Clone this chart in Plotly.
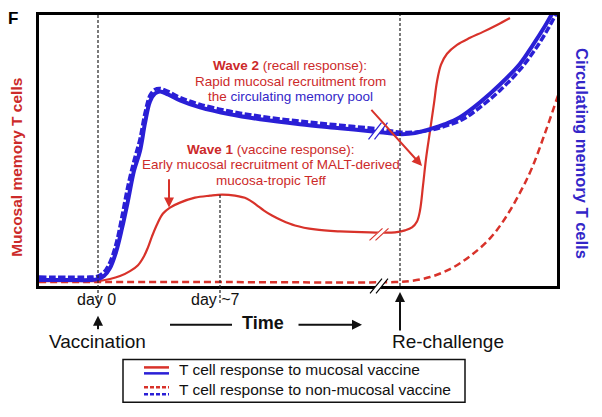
import numpy as np
import plotly.graph_objects as go

# ---------------- data (arbitrary units: time a.u., level a.u.) ----------------
# time: day 0 = 0, day ~7 = 122, re-challenge = 302
DAY0 = 0
DAY7 = 122
RECHALLENGE = 302
BREAK_T = 281

# Circulating memory T cells, mucosal vaccine (blue solid)
t_circ_muc = [-59, -28, -8, 0, 6, 12, 18, 24, 30, 36, 42, 47, 52, 57, 62, 70, 82, 102, 132, 162,
              202, 242, 282, 302, 317, 332, 347, 362, 382, 402, 422, 435, 447, 455, 458]
y_circ_muc = [6, 6, 6, 7, 10, 18, 34, 58, 86, 116, 136, 164, 186, 194, 196, 193, 187, 180, 173, 168,
              163, 159, 155, 153, 154, 158, 163, 170, 185, 203, 224, 243, 262, 276, 282]

# Circulating memory T cells, non-mucosal vaccine (blue dashed)
t_circ_non = [-59, -8, 0, 6, 12, 18, 24, 30, 36, 42, 47, 52, 57, 62, 70, 82, 102, 132, 162,
              202, 242, 282, 302, 317, 332, 347, 365, 382, 402, 422, 437, 450, 458, 461]
y_circ_non = [9, 9, 10, 14, 24, 42, 70, 101, 126, 148, 174, 192, 198, 199, 196, 190, 183, 176, 171,
              166, 162, 158, 155, 155, 157, 161, 168, 180, 197, 218, 238, 259, 274, 280]

# Mucosal memory T cells, mucosal vaccine (red solid)
t_muc_muc = [-59, -18, 0, 12, 22, 32, 40, 46, 50, 54, 59, 65, 72, 82, 97, 112, 124, 137, 149, 158,
             166, 174, 184, 197, 217, 242, 272, 297, 307, 314, 319, 322, 325, 328, 332, 336, 339,
             343, 349, 359, 372, 385, 399, 412]
y_muc_muc = [5, 5, 5, 7, 10, 15, 21, 30, 39, 50, 62, 73, 79, 84, 89, 91, 92, 91, 88, 82,
             76, 71, 66, 61, 57, 55, 54, 54, 56, 59, 65, 76, 101, 128, 156, 184, 206,
             223, 234, 243, 250, 256, 263, 270]

# Mucosal memory T cells, non-mucosal vaccine (red dashed)
t_muc_non = [-59, 102, 297, 312, 332, 352, 372, 392, 407, 422, 434, 447, 459, 462]
y_muc_non = [4, 4, 4, 5, 9, 17, 30, 48, 68, 94, 119, 154, 189, 198]

X_RANGE = [-59, 459]
Y_RANGE = [0, 273]

# ---------------- styling ----------------
W, H = 602, 417
ML, MR, MT, MB = 39, 45, 13, 131
PW, PH = W - ML - MR, H - MT - MB
FONT = "Liberation Sans, Arial, Helvetica, sans-serif"
RED = "#d8322a"
BLUE = "#2a1fd6"
RED_T = "#cc2a2a"
BLUE_T = "#3326c8"


def P(px, py):
    """pixel position in the page -> paper coordinates"""
    return (px - ML) / PW, (H - MB - py) / PH


fig = go.Figure()
fig.add_trace(go.Scatter(x=t_muc_non, y=y_muc_non, mode="lines", line_shape="spline",
                         line=dict(color=RED, width=2.5, dash="7px,4px"), hoverinfo="skip"))
fig.add_trace(go.Scatter(x=t_muc_muc, y=y_muc_muc, mode="lines", line_shape="spline",
                         line=dict(color=RED, width=2.2), hoverinfo="skip"))
fig.add_trace(go.Scatter(x=t_circ_muc, y=y_circ_muc, mode="lines", line_shape="spline",
                         line=dict(color=BLUE, width=4), hoverinfo="skip"))
fig.add_trace(go.Scatter(x=t_circ_non, y=y_circ_non, mode="lines", line_shape="spline",
                         line=dict(color=BLUE, width=3.5, dash="7px,2.5px"), hoverinfo="skip"))

shapes = []
ann = []


def yp(v):
    return v / Y_RANGE[1]


def text(x, y, txt, font, xref="paper", yref="paper", xanchor="center", **kw):
    ann.append(dict(x=x, y=y, xref=xref, yref=yref, text=txt, showarrow=False, font=font,
                    xanchor=xanchor, yanchor="middle", **kw))


def arrow(x, y, ax, ay, color, xref="paper", yref="paper", **kw):
    ann.append(dict(x=x, y=y, ax=ax, ay=ay, xref=xref, yref=yref, text="", showarrow=True,
                    arrowhead=2, arrowsize=1, arrowwidth=2, arrowcolor=color,
                    xanchor="center", yanchor="middle", **kw))


# vertical dotted guide lines
vdash = dict(color="#222", width=1.2, dash="3px,2px")
shapes.append(dict(type="line", xref="x", yref="paper", x0=DAY0, x1=DAY0, y0=P(0, 303)[1], y1=1,
                   line=vdash, layer="above"))
shapes.append(dict(type="line", xref="x", yref="paper", x0=DAY7, x1=DAY7, y0=P(0, 303)[1],
                   y1=yp(np.interp(DAY7, t_muc_muc, y_muc_muc)), line=vdash, layer="above"))
shapes.append(dict(type="line", xref="x", yref="paper", x0=RECHALLENGE, x1=RECHALLENGE, y0=0, y1=1,
                   line=vdash, layer="above"))


# axis breaks
def brk(cx, cy, color, hx=6.5, hy=8.5, gap=3.0):
    shapes.append(dict(type="line", xref="x", yref="paper", x0=cx - hx, x1=cx + hx,
                       y0=yp(cy - hy), y1=yp(cy + hy), line=dict(color="white", width=5), layer="above"))
    for s in (-gap, gap):
        shapes.append(dict(type="line", xref="x", yref="paper", x0=cx - hx + s, x1=cx + hx + s,
                           y0=yp(cy - hy), y1=yp(cy + hy), line=dict(color=color, width=1.2),
                           layer="above"))


brk(BREAK_T - 1, np.interp(BREAK_T, t_circ_muc, y_circ_muc) + 1, BLUE)
brk(BREAK_T, np.interp(BREAK_T, t_muc_muc, y_muc_muc) - 2, RED, hx=6.5, hy=6)
brk(BREAK_T, 0, "black", hx=6, hy=7.5)

# wave annotations
f13 = dict(family=FONT, size=13.5, color=RED_T)
wave2 = ["<b>Wave 2</b> (recall response):",
         "Rapid mucosal recruitment from",
         "the <span style='color:%s'>circulating memory pool</span>" % BLUE_T]
for txt, yy in zip(wave2, [222, 206, 191]):
    text(192, yy, txt, f13, xref="x", yref="y")
wave1 = ["<b>Wave 1</b> (vaccine response):",
         "Early mucosal recruitment of MALT-derived",
         "mucosa-tropic Teff"]
for txt, yy in zip(wave1, [138, 122, 106]):
    text(173, yy, txt, f13, xref="x", yref="y")

arrow(324, 121, 272, 179, RED, xref="x", yref="y", axref="x", ayref="y")
arrow(71, 79, 71, 109, RED, xref="x", yref="y", axref="x", ayref="y")

# axis titles
text(P(17, 0)[0], P(0, 167)[1], "<b>Mucosal memory T cells</b>",
     dict(family=FONT, size=15.5, color=RED_T), textangle=-90)
text(P(582, 0)[0], P(0, 152)[1], "<b>Circulating memory T cells</b>",
     dict(family=FONT, size=16.5, color=BLUE_T), textangle=90)
text(P(12.5, 0)[0], P(0, 17)[1], "<b>F</b>", dict(family=FONT, size=17, color="black"))

# below-axis labels
fb = dict(family=FONT, size=16, color="#111")
text(DAY0 - 2, P(0, 300)[1], "day 0", fb, xref="x")
text(DAY7 - 5, P(0, 300)[1], "day ~7", fb, xref="x")
fbig = dict(family=FONT, size=19, color="#111")
text(DAY0 - 1, P(0, 342)[1], "Vaccination", fbig, xref="x")
text(350, P(0, 342)[1], "Re-challenge", fbig, xref="x")
arrow(DAY0, P(0, 316)[1], 0, 15, "#111", xref="x")
arrow(RECHALLENGE, P(0, 292)[1], 0, 40, "#111", xref="x")
text(P(263, 0)[0], P(0, 323)[1], "<b>Time</b>", dict(family=FONT, size=18, color="#111"))
x0, y0 = P(170, 325)
x1, _ = P(232, 325)
shapes.append(dict(type="line", xref="paper", yref="paper", x0=x0, x1=x1, y0=y0, y1=y0,
                   line=dict(color="#111", width=2)))
arrow(P(362, 0)[0], P(0, 325)[1], -65, 0, "#111")

# legend box
lx0, ly0 = P(123, 403)
lx1, ly1 = P(465, 360)
shapes.append(dict(type="rect", xref="paper", yref="paper", x0=lx0, x1=lx1, y0=ly0, y1=ly1,
                   line=dict(color="#111", width=1.5), fillcolor="white"))
legend_items = [("T cell response to mucosal vaccine", "solid", 368, 374, 370),
                ("T cell response to non-mucosal vaccine", "4px,2px", 388, 395, 390)]
for label, dash, yr, yb, yt in legend_items:
    for col, yy in ((RED, yr), (BLUE, yb)):
        a, b = P(144, yy)
        c, _ = P(169, yy)
        shapes.append(dict(type="line", xref="paper", yref="paper", x0=a, x1=c, y0=b, y1=b,
                           line=dict(color=col, width=2.5, dash=dash)))
    tx, ty = P(177, yt)
    text(tx, ty, label, dict(family=FONT, size=15.5, color="#111"), xanchor="left")

fig.update_layout(
    width=W, height=H, margin=dict(l=ML, r=MR, t=MT, b=MB),
    plot_bgcolor="white", paper_bgcolor="white", showlegend=False,
    shapes=shapes, annotations=ann,
    xaxis=dict(range=X_RANGE, showgrid=False, zeroline=False, showticklabels=False, ticks="",
               showline=True, mirror=True, linecolor="black", linewidth=3, fixedrange=True),
    yaxis=dict(range=Y_RANGE, showgrid=False, zeroline=False, showticklabels=False, ticks="",
               showline=True, mirror=True, linecolor="black", linewidth=3, fixedrange=True),
)
fig.write_html("out.html", config={"displayModeBar": False},
               post_script="document.body.style.margin='0';")
